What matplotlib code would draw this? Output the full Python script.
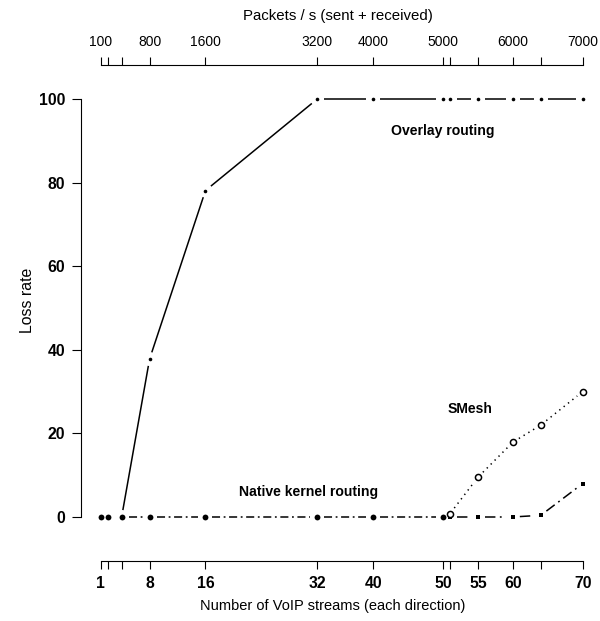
import numpy as np
import matplotlib
matplotlib.use("Agg")
import matplotlib.pyplot as plt

plt.rcParams["font.family"] = ["Liberation Sans", "DejaVu Sans"]
plt.rcParams["lines.scale_dashes"] = False

# Measured stream counts (x positions shared by both axes)
stream_ticks = [1, 2, 4, 8, 16, 32, 40, 50, 51, 55, 60, 64, 70]
bottom_labels = ["1", "", "", "8", "16", "32", "40", "50", "", "55", "60", "", "70"]
top_labels = ["100", "", "", "800", "1600", "3200", "4000", "5000", "", "", "6000", "", "7000"]
y_ticks = [0, 20, 40, 60, 80, 100]

# Loss rate series
overlay_x = [1, 2, 4, 8, 16, 32, 40, 50, 51, 55, 60, 64, 70]
overlay_y = [0, 0, 0, 37.8, 78.1, 100, 100, 100, 100, 100, 100, 100, 100]

native_x = [1, 2, 4, 8, 16, 32, 40, 50]
native_y = [0, 0, 0, 0, 0, 0, 0, 0]

native_hi_x = [51, 55, 60, 64, 70]
native_hi_y = [0, 0, 0, 0.4, 8.0]

smesh_x = [51, 55, 60, 64, 70]
smesh_y = [0.8, 9.5, 17.9, 22.0, 30.0]

W, H = 600, 621
fig = plt.figure(figsize=(W / 100, H / 100), dpi=100)

# plot region in pixels (left, top, right, bottom)
px_l, px_t, px_r, px_b = 81.4, 82.3, 602.0, 533.7
ax = fig.add_axes([px_l / W, 1 - px_b / H, (px_r - px_l) / W, (px_b - px_t) / H])
ax.set_xlim(-1.76, 72.76)
ax.set_ylim(-4, 104)
ax.patch.set_visible(False)

fs_tick_bold = 11.3
fs_tick = 9.9
fs_note = 10.1
fs_title = 10.8

for s in ("top", "right"):
    ax.spines[s].set_visible(False)
ax.spines["left"].set_bounds(0, 100)
ax.spines["bottom"].set_bounds(1, 70)
ax.spines["bottom"].set_position(("outward", 19.7))
for s in ("left", "bottom"):
    ax.spines[s].set_linewidth(0.8)

ax.set_yticks(y_ticks)
ax.set_yticklabels([str(v) for v in y_ticks], fontweight="bold", fontsize=fs_tick_bold)
ax.set_xticks(stream_ticks)
ax.set_xticklabels(bottom_labels, fontweight="bold", fontsize=fs_tick_bold)
ax.tick_params(axis="y", direction="out", length=6.5, width=0.8, pad=5)
ax.tick_params(axis="x", direction="out", length=5.5, width=0.8, pad=5.5)

top = ax.secondary_xaxis("top")
top.set_xticks(stream_ticks)
top.set_xticklabels(top_labels, fontsize=fs_tick)
top.spines["top"].set_position(("outward", 12.5))
top.spines["top"].set_bounds(1, 70)
top.spines["top"].set_linewidth(0.8)
top.tick_params(axis="x", direction="out", length=5.5, width=0.8, pad=6)


def draw_b(xs, ys, gap_px, **kw):
    """Points joined by lines that stop short of each point."""
    pts = ax.transData.transform(np.column_stack([xs, ys]).astype(float))
    inv = ax.transData.inverted()
    for p0, p1 in zip(pts[:-1], pts[1:]):
        d = p1 - p0
        L = np.hypot(*d)
        if L <= 2 * gap_px:
            continue
        u = d / L
        seg = inv.transform(np.array([p0 + u * gap_px, p1 - u * gap_px]))
        ax.plot(seg[:, 0], seg[:, 1], color="black", solid_capstyle="butt",
                dash_capstyle="butt", **kw)


lw = 1.1
gap = 7.0
# Overlay routing: solid line, small dots
draw_b(overlay_x, overlay_y, gap, lw=lw, linestyle="-")
ax.plot(overlay_x, overlay_y, linestyle="none", marker="o", ms=2.6,
        color="black", mew=0)

# Native kernel routing: dot-dash, filled circles
dotdash = (0, (5.8, 2.6, 1.3, 2.6))
draw_b(native_x, native_y, gap, lw=lw, linestyle=dotdash)
ax.plot(native_x, native_y, linestyle="none", marker="o", ms=4.2,
        color="black", mew=0)

# Native kernel routing beyond 50 streams: long dash, filled squares
twodash = (0, (7.5, 3.2, 1.3, 3.2))
draw_b(native_hi_x, native_hi_y, gap, lw=lw, linestyle=twodash)
ax.plot(native_hi_x, native_hi_y, linestyle="none", marker="s", ms=3.4,
        color="black", mew=0)

# SMesh: dotted, open circles
draw_b(smesh_x, smesh_y, gap, lw=lw, linestyle=(0, (1.0, 3.0)))
ax.plot(smesh_x, smesh_y, linestyle="none", marker="o", ms=4.4,
        mfc="white", mec="black", mew=1.1)

ax.text(50.0, 92.3, "Overlay routing", ha="center", va="center",
        fontweight="bold", fontsize=fs_note)
ax.text(53.8, 25.8, "SMesh", ha="center", va="center",
        fontweight="bold", fontsize=fs_note)
ax.text(30.7, 6.0, "Native kernel routing", ha="center", va="center",
        fontweight="bold", fontsize=fs_note)

fig.text(338 / W, 1 - 16 / H, "Packets / s (sent + received)",
         ha="center", va="center", fontsize=fs_title)
fig.text(333 / W, 1 - 606 / H, "Number of VoIP streams (each direction)",
         ha="center", va="center", fontsize=fs_title - 0.3)
fig.text(27 / W, 1 - 300 / H, "Loss rate", ha="center", va="center",
         rotation=90, fontsize=fs_title + 0.6)

fig.savefig("out.png", dpi=100)
